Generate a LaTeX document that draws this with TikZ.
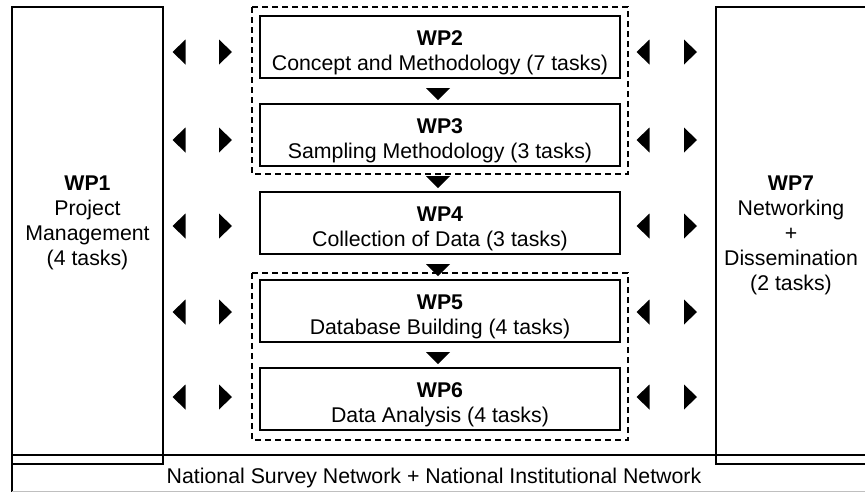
\documentclass[tikz,border=0pt]{standalone}
\usepackage{fontspec}
\setmainfont{Liberation Sans}
\begin{document}
\begin{tikzpicture}[x=1pt,y=-1pt,
  box/.style={draw, line width=1.4pt, minimum width=360pt, minimum height=62pt, inner sep=0pt},
  side/.style={draw, line width=1.4pt},
  grp/.style={draw, line width=1.4pt, dash pattern=on 6pt off 4pt},
  lbl/.style={anchor=base, inner sep=0pt, font=\fontsize{21.3}{25}\selectfont},
  ltri/.pic={\fill (6.5,-12.5) -- (-6.5,0) -- (6.5,12.5) -- cycle;},
  rtri/.pic={\fill (-6.5,-12.5) -- (6.5,0) -- (-6.5,12.5) -- cycle;},
  dtri/.pic={\fill (-12,-6) -- (12,-6) -- (0,6) -- cycle;}]
\useasboundingbox (0,0) rectangle (865,491);
\clip (0,0) rectangle (865,491);
% side boxes
\draw[side] (12,7) rectangle (163,464);
\draw[side] (716,7) rectangle (867,464);
% bottom band
\draw[side] (12,455) -- (870,455);
\draw[side] (12,455) -- (12,495);
\draw[side, black!25] (12,491.2) -- (870,491.2);
\node[lbl] (net) at (434,483) {National Survey Network + National Institutional Network};
% WP1 text
\node[lbl] (wp1) at (87.5,190) {\bfseries WP1};
\node[lbl] at (87.5,215) {Project};
\node[lbl] at (87.5,240) {Management};
\node[lbl] at (87.5,265) {(4 tasks)};
% WP7 text
\node[lbl] (wp7) at (791,190) {\bfseries WP7};
\node[lbl] at (791,215) {Networking};
\node[lbl] at (791,240) {+};
\node[lbl] at (791,265) {Dissemination};
\node[lbl] at (791,290) {(2 tasks)};
% groups
\draw[grp] (252,7) rectangle (628,174);
\draw[grp] (252,273) rectangle (628,440);
% central boxes
\node[box] (wp2) at (440,47) {};
\node[box] (wp3) at (440,135) {};
\node[box] (wp4) at (440,223) {};
\node[box] (wp5) at (440,311) {};
\node[box] (wp6) at (440,399) {};
\node[lbl] at (440,45) {\bfseries WP2};
\node[lbl] at (440,70) {Concept and Methodology (7 tasks)};
\node[lbl] at (440,133) {\bfseries WP3};
\node[lbl] at (440,158) {Sampling Methodology (3 tasks)};
\node[lbl] at (440,221) {\bfseries WP4};
\node[lbl] at (440,246) {Collection of Data (3 tasks)};
\node[lbl] at (440,309) {\bfseries WP5};
\node[lbl] at (440,334) {Database Building (4 tasks)};
\node[lbl] at (440,397) {\bfseries WP6};
\node[lbl] at (440,422) {Data Analysis (4 tasks)};
% down arrows
\foreach \y in {94,182,270,358} \pic at (438,\y) {dtri};
% side arrows
\foreach \y in {52,140,226,312,397} {
  \pic at (179,\y) {ltri};
  \pic at (225.5,\y) {rtri};
  \pic at (643,\y) {ltri};
  \pic at (690.5,\y) {rtri};
}
\end{tikzpicture}
\end{document}
